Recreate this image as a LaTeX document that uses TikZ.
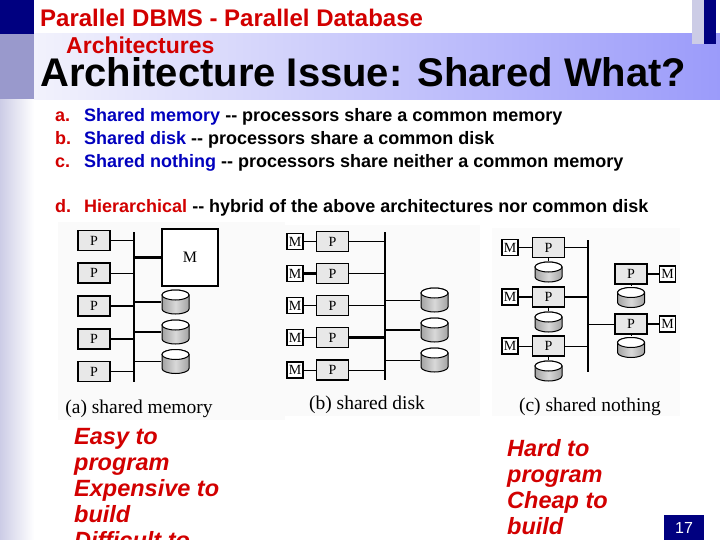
\documentclass[tikz,border=0pt]{standalone}
\usepackage{fontspec}
\setmainfont{Liberation Sans}
\newfontfamily\figfont{Liberation Serif}

\definecolor{slidenavy}{RGB}{0,0,128}
\definecolor{slidelav}{RGB}{153,153,204}
\definecolor{slidepale}{RGB}{204,204,230}
\definecolor{bandleft}{RGB}{242,242,252}
\definecolor{bandright}{RGB}{155,155,250}
\definecolor{hdred}{RGB}{210,0,0}
\definecolor{itemblue}{RGB}{0,0,190}

\tikzset{
  pbox/.style={draw, line width=1.4pt, fill=gray!18, minimum width=32pt,
    minimum height=20pt, inner sep=0pt, font=\figfont\fontsize{14}{14}\selectfont},
  mbox/.style={draw, line width=1.8pt, fill=white, minimum size=16pt,
    inner sep=0pt, font=\figfont\fontsize{14}{14}\selectfont},
  disk/.style={rectangle, inner sep=0pt, minimum width=29pt, minimum height=26pt,
    path picture={
      \path[draw, line width=1pt, left color=gray!75, right color=gray!75,
            middle color=gray!30]
        ([xshift=1pt,yshift=-6pt]path picture bounding box.north west)
        -- ([xshift=1pt,yshift=6pt]path picture bounding box.south west)
        arc[start angle=180, end angle=360, x radius=13.5pt, y radius=5pt]
        -- ([xshift=-1pt,yshift=-6pt]path picture bounding box.north east)
        arc[start angle=0, end angle=180, x radius=13.5pt, y radius=5pt]
        -- cycle;
      \path[draw, line width=1pt, fill=white]
        ([yshift=-6pt]path picture bounding box.north)
        ellipse [x radius=13.5pt, y radius=5pt];
    }},
  bus/.style={line width=2.5pt},
  wire/.style={line width=0.9pt},
  fatwire/.style={line width=2.2pt},
  caption/.style={anchor=base, inner sep=0pt,
    font=\figfont\fontsize{19.5}{20}\selectfont},
  itemmark/.style={anchor=base west, inner sep=0pt, text=hdred,
    font=\bfseries\fontsize{18}{18}\selectfont},
  itemtext/.style={anchor=base west, inner sep=0pt,
    font=\bfseries\fontsize{18}{18}\selectfont},
  remark/.style={anchor=base west, inner sep=0pt, text=hdred,
    font=\bfseries\itshape\fontsize{23.5}{26}\selectfont}
}

\begin{document}
\begin{tikzpicture}[x=1pt, y=-1pt]

  % ================= slide frame =================
  \useasboundingbox (0,0) rectangle (720,540);
  \fill[white] (0,0) rectangle (720,540);
  \fill[slidenavy] (0,0) rectangle (34,34);
  \fill[slidelav] (0,34) rectangle (34,100);
  \shade[left color=slidepale, right color=white] (0,100) rectangle (34,540);
  \shade[left color=bandleft, right color=bandright] (34,34) rectangle (720,100);
  \fill[slidepale] (692,0) rectangle (704,44);
  \fill[slidenavy] (704,0) rectangle (716,44);

  % ================= headings =================
  \node[anchor=base west, inner sep=0pt, text=hdred,
        font=\bfseries\fontsize{24}{24}\selectfont] (head1) at (40,27)
        {Parallel DBMS - Parallel Database};
  \node[anchor=base west, inner sep=0pt, text=hdred,
        font=\bfseries\fontsize{23}{23}\selectfont] (head2) at (66,54)
        {Architectures};
  \node[anchor=base west, inner sep=0pt,
        font=\bfseries\fontsize{40}{40}\selectfont] (title) at (40,87)
        {Architecture Issue: Shared What?};

  % ================= list =================
  \node[itemmark] (marka) at (55,122) {a.};
  \node[itemtext] (itema) at (84,122)
        {\textcolor{itemblue}{Shared memory} -{}- processors share a common memory};
  \node[itemmark] (markb) at (55,145) {b.};
  \node[itemtext] (itemb) at (84,145)
        {\textcolor{itemblue}{Shared disk} -{}- processors share a common disk};
  \node[itemmark] (markc) at (55,168) {c.};
  \node[itemtext] (itemc) at (84,168)
        {\textcolor{itemblue}{Shared nothing} -{}- processors share neither a common memory};
  \node[itemmark] (markd) at (55,213) {d.};
  \node[itemtext] (itemd) at (84,213)
        {\textcolor{hdred}{Hierarchical} -{}- hybrid of the above architectures nor common disk};

  % ================= figure panels =================
  \fill[gray!4] (58,222) rectangle (285,420);
  \fill[gray!4] (285,225) rectangle (480,416);
  \fill[gray!3] (492,228) rectangle (680,416);

  % ================= (a) shared memory =================
  \coordinate (busatop) at (134,232);
  \coordinate (busabot) at (134,382);
  \draw[bus] (busatop) -- (busabot);
  \node[pbox] (pa1) at (94,240.5) {P};
  \node[pbox] (pa2) at (94,273) {P};
  \node[pbox] (pa3) at (94,306) {P};
  \node[pbox] (pa4) at (94,339) {P};
  \node[pbox] (pa5) at (94,371.5) {P};
  \node[draw, line width=1.4pt, fill=white, minimum width=56pt, minimum height=57pt,
        font=\figfont\fontsize{16}{16}\selectfont] (mema) at (190,257.5) {M};
  \node[disk] (da1) at (175.5,302) {};
  \node[disk] (da2) at (175.5,332) {};
  \node[disk] (da3) at (175.5,361.5) {};
  \draw[wire] (pa1) -- (pa1 -| busatop);
  \draw[wire] (pa2) -- (pa2 -| busatop);
  \draw[fatwire] (pa3) -- (pa3 -| busatop);
  \draw[fatwire] (pa4) -- (pa4 -| busatop);
  \draw[wire] (pa5) -- (pa5 -| busatop);
  \draw[fatwire] (mema -| busatop) -- (mema);
  \draw[fatwire] (da1 -| busatop) -- (da1);
  \draw[fatwire] (da2 -| busatop) -- (da2);
  \draw[wire] (da3 -| busatop) -- (da3);
  \node[caption] (capa) at (139,413) {(a) shared memory};

  % ================= (b) shared disk =================
  \coordinate (busbtop) at (385,232);
  \coordinate (busbbot) at (385,380);
  \draw[bus] (busbtop) -- (busbbot);
  \node[mbox] (mb1) at (295,241.5) {M};
  \node[mbox] (mb2) at (295,273.5) {M};
  \node[mbox] (mb3) at (295,305.5) {M};
  \node[mbox] (mb4) at (295,337.5) {M};
  \node[mbox] (mb5) at (295,370) {M};
  \node[pbox] (pb1) at (332.5,241.5) {P};
  \node[pbox] (pb2) at (332.5,273.5) {P};
  \node[pbox] (pb3) at (332.5,305.5) {P};
  \node[pbox] (pb4) at (332.5,337.5) {P};
  \node[pbox] (pb5) at (332.5,370) {P};
  \node[disk] (db1) at (434.5,300) {};
  \node[disk] (db2) at (434.5,330) {};
  \node[disk] (db3) at (434.5,360) {};
  \draw[wire] (mb1) -- (pb1);
  \draw[fatwire] (mb2) -- (pb2);
  \draw[wire] (mb3) -- (pb3);
  \draw[wire] (mb4) -- (pb4);
  \draw[wire] (mb5) -- (pb5);
  \draw[wire] (pb1) -- (pb1 -| busbtop);
  \draw[wire] (pb2) -- (pb2 -| busbtop);
  \draw[wire] (pb3) -- (pb3 -| busbtop);
  \draw[fatwire] (pb4) -- (pb4 -| busbtop);
  \draw[wire] (pb5) -- (pb5 -| busbtop);
  \draw[wire] (db1 -| busbtop) -- (db1);
  \draw[fatwire] (db2 -| busbtop) -- (db2);
  \draw[wire] (db3 -| busbtop) -- (db3);
  \node[caption] (capb) at (367,409) {(b) shared disk};

  % ================= (c) shared nothing =================
  \coordinate (busctop) at (588,240);
  \coordinate (buscbot) at (588,372);
  \draw[bus] (busctop) -- (buscbot);
  % left column
  \node[mbox] (mc1) at (510,247.5) {M};
  \node[pbox] (pc1) at (548.5,247.5) {P};
  \node[disk, minimum height=22pt] (dc1) at (548.5,272) {};
  \node[mbox] (mc2) at (510,297) {M};
  \node[pbox] (pc2) at (548.5,297) {P};
  \node[disk, minimum height=22pt] (dc2) at (548.5,322) {};
  \node[mbox] (mc3) at (510,346) {M};
  \node[pbox] (pc3) at (548.5,346) {P};
  \node[disk, minimum height=22pt] (dc3) at (548.5,371) {};
  % right column
  \node[pbox] (pc4) at (631,274) {P};
  \node[mbox] (mc4) at (667.5,274) {M};
  \node[disk, minimum height=22pt] (dc4) at (631,297.5) {};
  \node[pbox] (pc5) at (631,324) {P};
  \node[mbox] (mc5) at (667.5,324) {M};
  \node[disk, minimum height=22pt] (dc5) at (631,347.5) {};
  \draw[wire] (mc1) -- (pc1);
  \draw[fatwire] (mc2) -- (pc2);
  \draw[wire] (mc3) -- (pc3);
  \draw[fatwire] (pc4) -- (mc4);
  \draw[fatwire] (pc5) -- (mc5);
  \draw[wire] (pc1) -- (dc1);
  \draw[wire] (pc2) -- (dc2);
  \draw[wire] (pc3) -- (dc3);
  \draw[wire] (pc4) -- (dc4);
  \draw[wire] (pc5) -- (dc5);
  \draw[wire] (pc1) -- (pc1 -| busctop);
  \draw[fatwire] (pc2) -- (pc2 -| busctop);
  \draw[wire] (pc3) -- (pc3 -| busctop);
  \draw[wire] (pc5 -| busctop) -- (pc5);
  \node[caption] (capc) at (590,411) {(c) shared nothing};

  % ================= remarks =================
  \node[remark] (easy) at (74,444) {Easy to};
  \node[remark] (progeasy) at (74,470) {program};
  \node[remark] (expensive) at (74,496) {Expensive to};
  \node[remark] (buildexp) at (74,522) {build};
  \node[remark] (difficult) at (74,548) {Difficult to};
  \node[remark] (hard) at (507,456) {Hard to};
  \node[remark] (proghard) at (507,482) {program};
  \node[remark] (cheap) at (507,508) {Cheap to};
  \node[remark] (buildcheap) at (507,534) {build};

  % ================= page number =================
  \fill[slidenavy] (664,515) rectangle (704,540);
  \node[text=white, font=\fontsize{16}{16}\selectfont] (pageno) at (684,528) {17};

\end{tikzpicture}
\end{document}
